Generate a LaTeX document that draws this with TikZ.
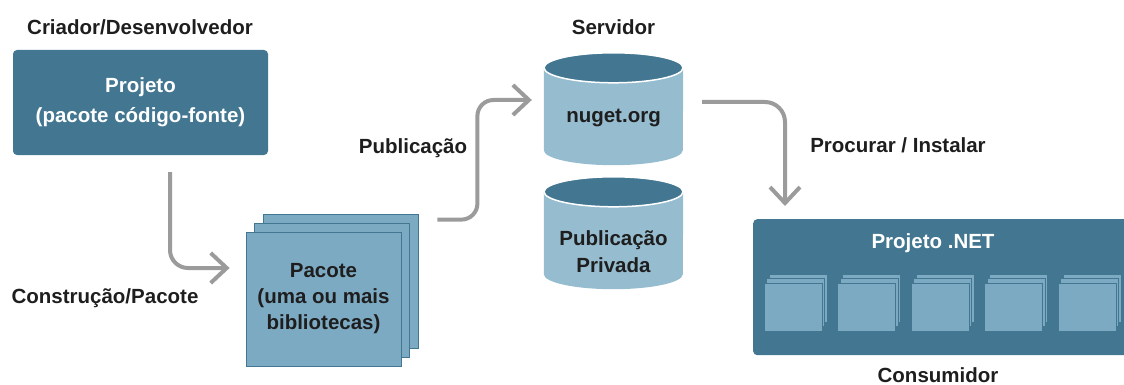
\documentclass[tikz,border=0pt]{standalone}
\usepackage{fontspec}
\setmainfont{Liberation Sans}
\usetikzlibrary{arrows.meta,calc,positioning,shadows}

\definecolor{projblue}{RGB}{66,118,145}
\definecolor{pkgblue}{RGB}{125,170,195}
\definecolor{dbblue}{RGB}{150,188,208}
\definecolor{flowgray}{RGB}{155,155,155}
\definecolor{txtdark}{RGB}{30,30,30}

\tikzset{
  lbl/.style={font=\bfseries\fontsize{20.5}{26}\selectfont, text=txtdark, align=center, inner sep=0},
  projbox/.style={rectangle, rounded corners=4pt, fill=projblue, inner sep=0, align=center,
    font=\bfseries\fontsize{20.5}{30}\selectfont, text=white},
  pkgbox/.style={lbl, rectangle, fill=pkgblue, draw=projblue, line width=.8pt, minimum width=155pt, minimum height=134pt,
    copy shadow={shadow xshift=17pt, shadow yshift=18pt, fill=pkgblue, draw=projblue},
    copy shadow={shadow xshift=8.5pt, shadow yshift=9pt, fill=pkgblue, draw=projblue}},
  libbox/.style={rectangle, fill=pkgblue, draw=projblue, line width=.6pt, inner sep=0, minimum width=58pt, minimum height=48pt,
    copy shadow={shadow xshift=5pt, shadow yshift=9pt, fill=pkgblue, draw=projblue},
    copy shadow={shadow xshift=2.5pt, shadow yshift=4.5pt, fill=pkgblue, draw=projblue}},
  dbslot/.style={rectangle, inner sep=0, minimum width=139pt, minimum height=112pt},
  flow/.style={draw=flowgray, line width=4pt, -{Straight Barb[length=16pt,width=30pt]}}
}

\begin{document}
\begin{tikzpicture}[x=1pt,y=-1pt]
\useasboundingbox (0,0) rectangle (1124,385);

% criador
\node [lbl] (criador) at (140,27) {Criador/Desenvolvedor};
\node [projbox, minimum width=255pt, minimum height=105pt] (projeto) at (140.5,102.5) {Projeto\\(pacote código-fonte)};

% pacote
\node [pkgbox] (pacote) at (323.5,299) {Pacote\\(uma ou mais\\bibliotecas)};
\node [lbl] (construcao) at (105,298) {Construção/Pacote};

% servidor
\node [lbl] (servidor) at (613.5,27) {Servidor};
\node [dbslot] (nuget) at (613.5,109) {};
\node [dbslot] (privada) at (613.5,233) {};
\foreach \db in {nuget,privada}{
  \fill [dbblue] ([yshift=-15pt]\db.north west) -- ([yshift=15pt]\db.south west)
    arc [start angle=180, end angle=360, x radius=69.5pt, y radius=15pt] -- ([yshift=-15pt]\db.north east) -- cycle;
  \draw [fill=projblue, draw=white, line width=1.5pt] ([yshift=-15pt]\db.north) ellipse [x radius=69.5pt, y radius=15pt];
}
\node [lbl] (nugettxt) at (613.5,118) {nuget.org};
\node [lbl, font=\bfseries\fontsize{20.5}{27}\selectfont] (privtxt) at (613.5,251.5) {Publicação\\Privada};
\node [lbl] (publicacao) at (413,148) {Publicação};

% consumidor
\node [projbox, anchor=north west, minimum width=380pt, minimum height=136pt] (consumo) at (753,219) {};
\node [lbl, text=white] (dotnet) at (933,243) {Projeto .NET};
\matrix (libs) [column sep=15pt, every node/.style={libbox}] at (940,307) {
  \node (lib1) {}; & \node (lib2) {}; & \node (lib3) {}; & \node (lib4) {}; & \node (lib5) {}; \\
};
\node [lbl] (consumidor) at (938,375) {Consumidor};
\node [lbl] (procurar) at (898,145) {Procurar / Instalar};

% setas
\draw [flow, rounded corners=18pt] ([xshift=29.5pt,yshift=-17pt]projeto.south) |- ([xshift=-16pt,yshift=31pt]pacote.west);
\draw [flow, rounded corners=16pt] ([xshift=36pt,yshift=12pt]pacote.north east) -- ++(40,0) |- ([xshift=-12pt,yshift=9pt]nuget.west);
\draw [flow, rounded corners=20pt] ([xshift=19pt,yshift=7pt]nuget.east) -| ([xshift=32pt,yshift=13pt]consumo.north west);
\end{tikzpicture}
\end{document}
